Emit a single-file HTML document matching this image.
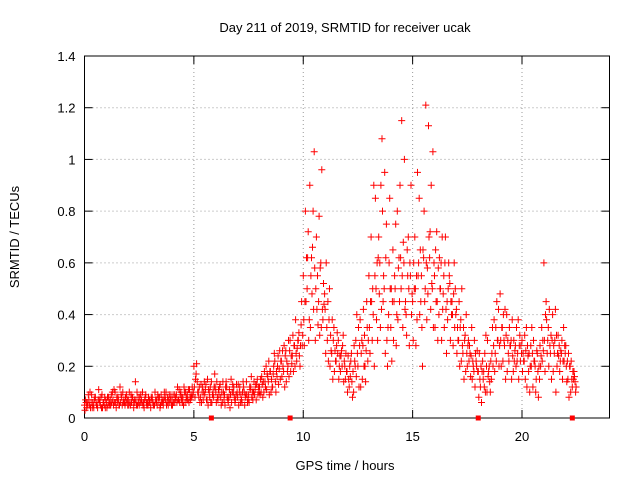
<!DOCTYPE html>
<html><head><meta charset="utf-8"><style>
body{margin:0;background:#fff;}
svg text{font-family:"Liberation Sans",sans-serif;font-size:13px;fill:#000;}
</style></head><body>
<svg id="chart" width="640" height="480" xmlns="http://www.w3.org/2000/svg">
<rect width="640" height="480" fill="#fff"/>
<g id="grid"></g>
<g id="axes"></g>
<g id="marks"></g>
<text x="345" y="32" text-anchor="middle">Day 211 of 2019, SRMTID for receiver ucak</text>
<text x="345" y="470" text-anchor="middle">GPS time / hours</text>
<text x="19" y="237" text-anchor="middle" transform="rotate(-90 19 237)">SRMTID / TECUs</text>
</svg>
<script>
const xTicks=[0,5,10,15,20];
const yTicks=[0,0.2,0.4,0.6,0.8,1,1.2,1.4];
const yTickLabels=["0","0.2","0.4","0.6","0.8","1","1.2","1.4"];
const gapMarkers=[5.8,9.4,18.0,22.3];
const times=[];
const hourBlocks=[0,1,2,3,4,5,6,7,8,9,10,11,12,13,14,15,16,17,18,19,20,21];
const tenths=[0,0.1,0.2,0.3,0.4,0.5,0.6,0.7,0.8,0.9];
hourBlocks.forEach(h=>tenths.forEach(f=>times.push(+(h+f).toFixed(1))));
[22.0,22.1,22.2,22.3,22.4].forEach(t=>times.push(t));
const v1=[.05,.04,.07,.06,.05,.08,.04,.06,.09,.05,
.06,.08,.05,.07,.1,.06,.05,.08,.07,.06,
.07,.05,.08,.06,.1,.05,.07,.06,.09,.05,
.06,.08,.05,.07,.06,.09,.05,.07,.08,.06,
.07,.06,.09,.07,.1,.08,.06,.09,.11,.08,
.2,.17,.1,.08,.12,.09,.07,.1,.14,.08,
.1,.07,.13,.06,.09,.12,.08,.15,.1,.07,
.08,.12,.06,.1,.14,.09,.12,.07,.11,.15,
.12,.16,.1,.2,.14,.18,.12,.22,.16,.19,
.22,.18,.26,.2,.3,.24,.28,.22,.33,.36,
.55,.8,.62,.9,.48,1.03,.7,.45,.6,.38,
.42,.3,.5,.25,.35,.22,.3,.18,.28,.2,
.18,.12,.25,.1,.3,.2,.38,.15,.32,.45,
.55,.7,.4,.85,.3,.6,1.08,.5,.75,.4,
.35,.65,.5,.8,.45,1.15,.6,.4,.7,.55,
.45,.7,.38,.85,.55,.62,1.21,.48,.72,.5,
.55,.72,.4,.6,.48,.7,.38,.52,.45,.6,
.42,.3,.38,.25,.32,.2,.28,.35,.18,.22,
.18,.12,.22,.25,.1,.2,.15,.28,.35,.3,
.48,.35,.28,.4,.22,.3,.18,.28,.25,.32,
.3,.22,.35,.18,.28,.12,.2,.25,.15,.35,
.6,.45,.35,.25,.4,.3,.2,.28,.25,.35,
.28,.15,.2,.12,.16];
const v2=[.03,.06,.05,.09,.04,.06,.07,.05,.04,.08,
.04,.06,.09,.05,.06,.08,.12,.05,.06,.09,
.05,.09,.06,.14,.05,.08,.06,.04,.06,.08,
.04,.06,.1,.05,.08,.06,.07,.1,.05,.07,
.05,.09,.06,.11,.07,.05,.1,.07,.08,.12,
.12,.21,.08,.13,.07,.11,.15,.08,.06,.12,
.06,.11,.08,.14,.05,.08,.11,.06,.12,.09,
.13,.06,.1,.05,.09,.06,.16,.1,.13,.09,
.09,.13,.18,.11,.22,.1,.17,.14,.2,.26,
.16,.28,.14,.3,.18,.32,.2,.27,.24,.45,
.38,.45,.72,.35,.66,.58,.42,.78,.35,.52,
.25,.45,.2,.38,.18,.28,.15,.24,.32,.15,
.1,.2,.14,.28,.16,.35,.12,.28,.2,.35,
.35,.45,.9,.5,.62,.35,.8,.95,.3,.6,
.5,.3,.75,.38,.9,.55,1.0,.32,.5,.9,
.3,.5,.95,.4,.35,.8,.6,1.13,.42,1.03,
.35,.45,.62,.3,.55,.42,.5,.3,.4,.35,
.25,.45,.22,.35,.18,.28,.25,.15,.3,.2,
.08,.2,.15,.1,.3,.14,.25,.38,.22,.42,
.3,.22,.42,.18,.35,.15,.3,.2,.38,.22,
.18,.32,.12,.25,.2,.3,.1,.18,.28,.22,
.3,.38,.2,.32,.18,.42,.25,.18,.3,.22,
.2,.25,.1,.18,.14];
const v3=[.07,.05,.1,.04,.07,.05,.11,.08,.06,.04,
.08,.05,.06,.11,.04,.07,.06,.1,.05,.07,
.1,.06,.04,.07,.08,.06,.1,.07,.05,.06,
.08,.05,.07,.09,.04,.07,.1,.05,.07,.09,
.09,.07,.12,.06,.08,.12,.08,.11,.07,.09,
.08,.14,.12,.06,.1,.13,.05,.12,.09,.17,
.14,.09,.05,.1,.12,.07,.04,.1,.08,.13,
.05,.09,.14,.08,.06,.12,.08,.14,.07,.12,
.15,.08,.14,.17,.09,.15,.2,.1,.24,.15,
.26,.12,.22,.16,.24,.18,.38,.3,.2,.28,
.28,.62,.3,.55,.8,.3,.55,.32,.96,.44,
.6,.22,.32,.15,.26,.33,.2,.26,.14,.25,
.24,.16,.08,.22,.4,.12,.25,.42,.14,.22,
.25,.3,.2,.38,.7,.9,.45,.25,.2,.85,
.22,.45,.28,.58,.62,.35,.42,.65,.28,.4,
.6,.28,.55,.65,.2,.45,.38,.7,.9,.35,
.65,.3,.5,.7,.35,.25,.6,.45,.28,.5,
.35,.2,.5,.15,.4,.3,.16,.22,.12,.26,
.25,.06,.18,.32,.16,.1,.35,.18,.45,.2,
.2,.4,.15,.3,.28,.38,.22,.35,.15,.28,
.25,.15,.28,.1,.35,.22,.15,.08,.2,.3,
.18,.25,.42,.15,.28,.1,.32,.22,.15,.28,
.14,.08,.22,.15,.1];
const v4=[.06,.09,.04,.06,.08,.05,.07,.04,.06,.07,
.05,.07,.1,.06,.08,.05,.09,.06,.08,.05,
.06,.08,.07,.05,.06,.09,.05,.08,.06,.07,
.07,.05,.06,.08,.05,.06,.08,.06,.09,.05,
.06,.08,.07,.09,.06,.1,.07,.06,.09,.1,
.15,.1,.06,.1,.14,.07,.11,.06,.1,.12,
.08,.12,.1,.07,.14,.06,.09,.13,.06,.1,
.1,.07,.12,.09,.07,.11,.1,.09,.13,.1,
.1,.14,.12,.16,.18,.12,.25,.18,.13,.22,
.2,.24,.18,.26,.21,.28,.25,.3,.28,.32,
.45,.5,.38,.62,.42,.5,.36,.58,.42,.48,
.35,.38,.26,.3,.22,.25,.24,.2,.22,.18,
.15,.22,.18,.2,.25,.28,.3,.2,.26,.3,
.45,.5,.55,.6,.48,.42,.55,.62,.35,.5,
.45,.55,.4,.62,.5,.68,.45,.55,.6,.48,
.5,.55,.6,.45,.65,.5,.58,.62,.52,.6,
.45,.58,.5,.42,.6,.45,.55,.4,.48,.4,
.3,.35,.28,.3,.25,.22,.24,.2,.25,.18,
.15,.18,.12,.2,.18,.22,.2,.25,.3,.28,
.35,.3,.32,.25,.28,.24,.26,.22,.28,.25,
.22,.26,.24,.2,.25,.22,.26,.2,.24,.26,
.4,.3,.28,.3,.25,.32,.24,.26,.22,.25,
.22,.2,.15,.18,.12];
const series=[v1,v2,v3,v4];
const seriesOffsets=[0,0.025,0.05,0.075];

const L=84.5,R=609.5,T=56,B=418,XMAX=24,YMAX=1.4;
const xs=t=>L+(t/XMAX)*(R-L);
const ys=v=>B-(v/YMAX)*(B-T);
const NS="http://www.w3.org/2000/svg";
function mk(tag,attrs,parent){const e=document.createElementNS(NS,tag);for(const k in attrs)e.setAttribute(k,attrs[k]);parent.appendChild(e);return e;}
const grid=document.getElementById('grid'),axes=document.getElementById('axes'),marks=document.getElementById('marks');

yTicks.forEach((v,i)=>{
  const y=ys(v);
  if(i>0&&i<yTicks.length-1){const g=mk('line',{x1:L,x2:R,y1:y,y2:y,stroke:'#999','stroke-dasharray':'1,3','stroke-width':1},grid);
  
  }
  mk('line',{x1:L,x2:L+8,y1:y,y2:y,stroke:'#000'},axes);
  mk('line',{x1:R,x2:R-8,y1:y,y2:y,stroke:'#000'},axes);
  const tx=mk('text',{x:L-9,y:y+5,'text-anchor':'end'},axes);
  tx.textContent=yTickLabels[i];
  
  
});
xTicks.forEach(t=>{
  const x=xs(t);
  if(t>0){const g=mk('line',{x1:x,x2:x,y1:T,y2:B,stroke:'#999','stroke-dasharray':'1,3','stroke-width':1},grid);
  
  }
  mk('line',{x1:x,x2:x,y1:B,y2:B-8,stroke:'#000'},axes);
  mk('line',{x1:x,x2:x,y1:T,y2:T+8,stroke:'#000'},axes);
  const tx=mk('text',{x:x,y:B+23,'text-anchor':'middle'},axes);
  tx.textContent=String(t);
  
  
});
const frame=mk('rect',{x:L,y:T,width:R-L,height:B-T,fill:'none',stroke:'#000','stroke-width':1},axes);



let d='';
series.forEach((vals,s)=>{
  vals.forEach((v,i)=>{
    const x=xs(times[i]+seriesOffsets[s]),y=ys(v);
    d+=`M${(x-3.5).toFixed(1)} ${y.toFixed(1)}h7M${x.toFixed(1)} ${(y-3.5).toFixed(1)}v7`;
  });
});
const p=mk('path',{d:d,stroke:'#f00','stroke-width':1,fill:'none'},marks);



gapMarkers.forEach(t=>{
  const r=mk('rect',{x:xs(t)-2.5,y:B-2.5,width:5,height:5,fill:'#f00'},marks);
  
  
});
</script>
</body></html>
